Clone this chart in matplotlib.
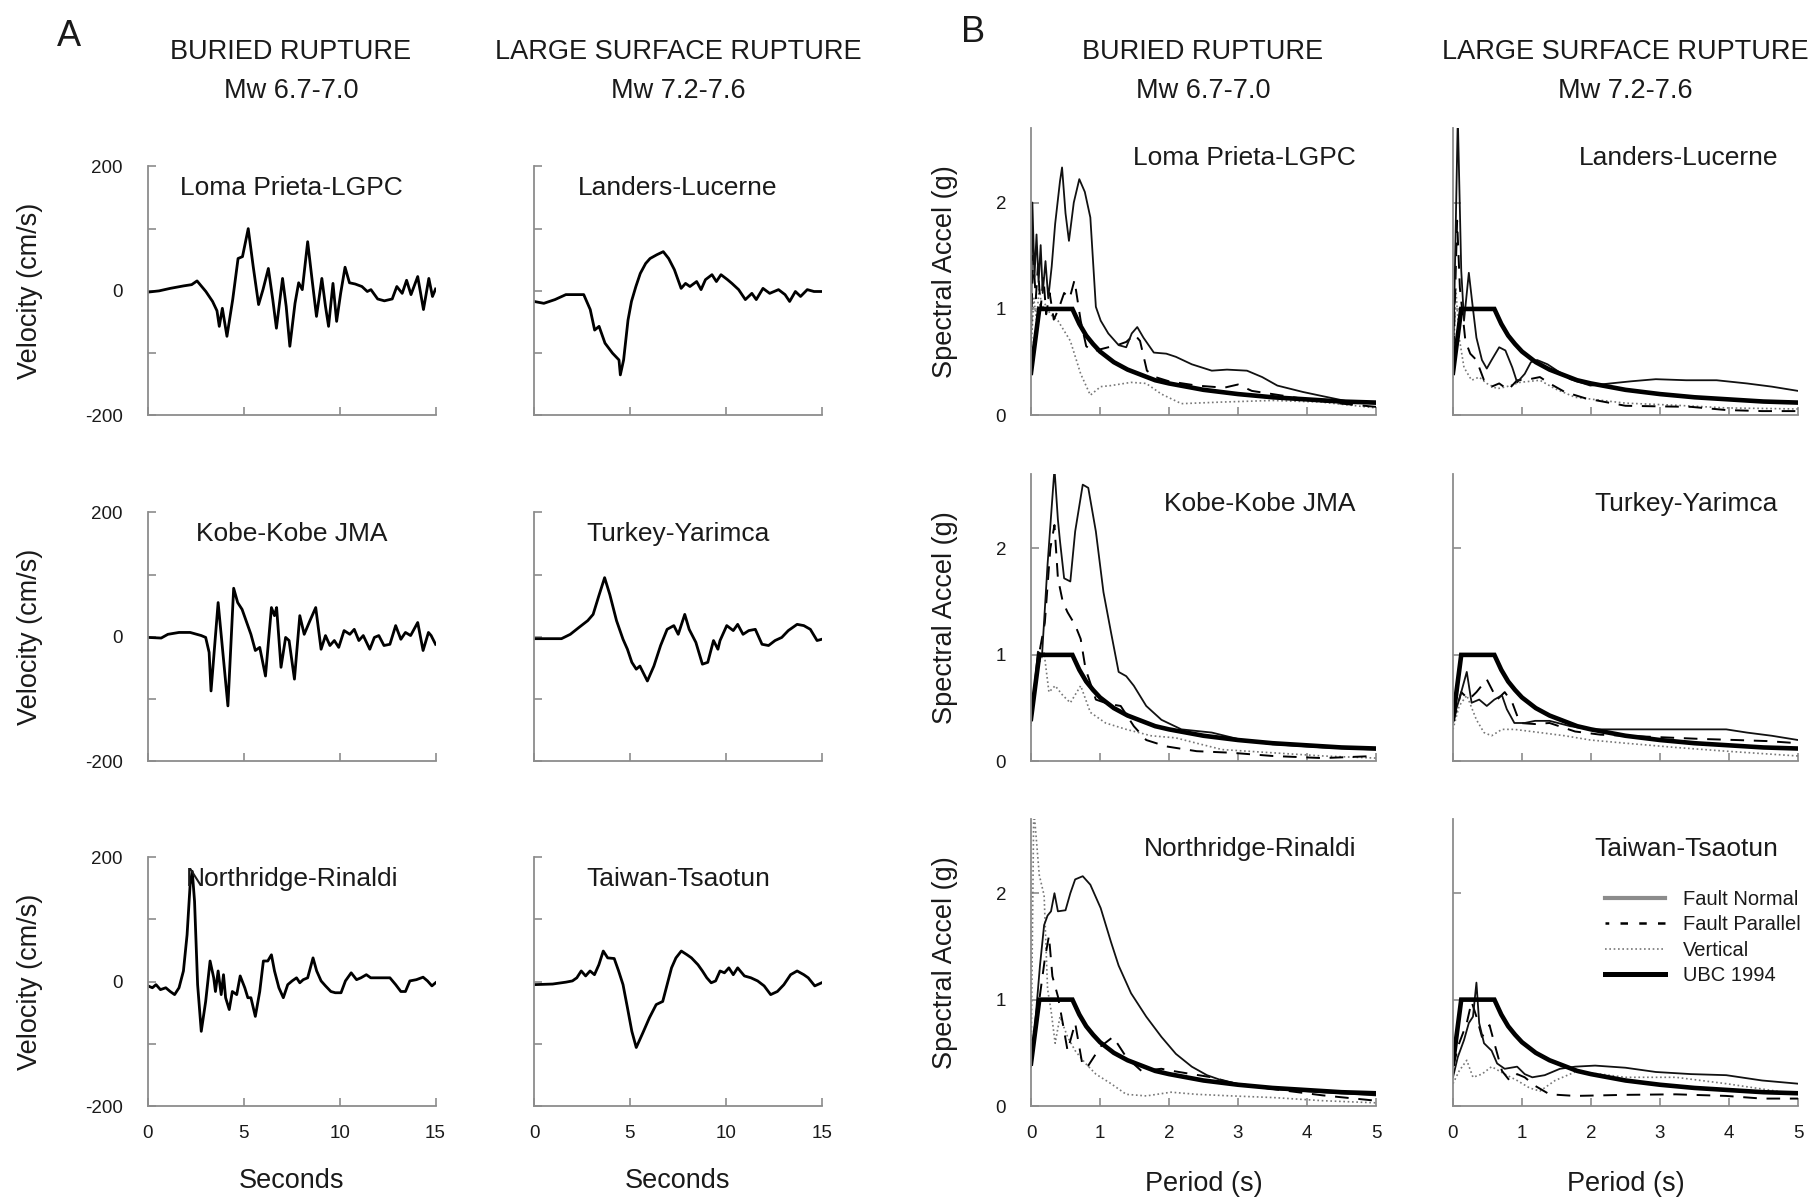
import matplotlib
matplotlib.use('Agg')
import matplotlib.pyplot as plt
from matplotlib.lines import Line2D

plt.rcParams['font.family'] = ['Liberation Sans', 'DejaVu Sans']

# ------------------------------------------------------------
# velocity time histories (t in s, v in cm/s)
# ------------------------------------------------------------
loma_t = [0, 0.58, 1.16, 1.86, 2.28, 2.56, 3.02, 3.37, 3.60, 3.72, 3.88, 4.12, 4.42, 4.70, 4.93, 5.23,
          5.49, 5.77, 6.00, 6.28, 6.51, 6.70, 7.02, 7.21, 7.40, 7.67, 7.86, 8.05, 8.33, 8.56, 8.79, 9.07,
          9.26, 9.42, 9.65, 9.84, 10.05, 10.28, 10.51, 10.81, 11.16, 11.44, 11.63, 11.98, 12.33, 12.74,
          12.98, 13.26, 13.49, 13.72, 14.07, 14.37, 14.65, 14.84, 15.0]
loma_v = [-2, 0, 4, 8, 10, 16, -1, -17, -32, -57, -28, -73, -14, 52, 55, 100, 39, -22, 2, 36, -14, -60,
          20, -25, -89, -20, 13, 2, 79, 18, -41, 20, -25, -57, 12, -49, -4, 38, 13, 11, 7, -1, 2, -13,
          -16, -13, 7, -4, 17, -6, 23, -30, 20, -9, 3]

land_t = [0, 0.51, 1.09, 1.66, 2.59, 2.93, 3.16, 3.39, 3.70, 4.09, 4.43, 4.50, 4.67, 4.90, 5.08, 5.31,
          5.54, 5.82, 6.05, 6.40, 6.74, 7.02, 7.32, 7.67, 7.90, 8.13, 8.48, 8.71, 8.94, 9.28, 9.51, 9.75,
          10.09, 10.32, 10.67, 11.02, 11.36, 11.59, 11.94, 12.29, 12.75, 13.09, 13.33, 13.63, 13.90,
          14.25, 14.60, 15.0]
land_v = [-17, -20, -14, -6, -6, -30, -63, -57, -84, -100, -111, -135, -111, -47, -17, 7, 28, 44, 52,
          58, 63, 52, 34, 4, 12, 7, 15, 2, 18, 26, 15, 26, 18, 12, 2, -14, -4, -14, 4, -4, 2, -6, -17,
          -1, -9, 2, -1, -1]

kobe_t = [0, 0.69, 1.04, 1.62, 2.20, 2.78, 3.01, 3.19, 3.29, 3.66, 4.17, 4.47, 4.68, 4.91, 5.37, 5.60,
          5.83, 6.13, 6.44, 6.60, 6.71, 6.94, 7.18, 7.36, 7.64, 7.92, 8.15, 8.45, 8.75, 9.03, 9.26, 9.49,
          9.72, 9.95, 10.23, 10.53, 10.76, 11.00, 11.23, 11.57, 11.81, 12.04, 12.31, 12.62, 12.92, 13.19,
          13.43, 13.70, 14.07, 14.35, 14.63, 14.77, 15.0]
kobe_v = [-1, -2, 4, 7, 7, 2, -1, -25, -87, 55, -111, 78, 55, 44, 4, -22, -17, -63, 47, 34, 47, -49, -1,
          -6, -68, 34, 4, 26, 47, -20, 2, -14, -6, -17, 10, 4, 12, -6, 2, -20, -1, 2, -14, -12, 18, -4,
          7, 2, 23, -22, 7, 2, -12]

turk_t = [0, 1.43, 1.89, 2.34, 2.80, 3.08, 3.38, 3.68, 3.95, 4.30, 4.64, 4.87, 5.10, 5.33, 5.52, 5.91,
          6.25, 6.60, 6.94, 7.29, 7.52, 7.86, 8.09, 8.44, 8.78, 9.06, 9.36, 9.59, 9.70, 10.05, 10.39,
          10.62, 10.90, 11.20, 11.54, 11.89, 12.23, 12.57, 12.92, 13.26, 13.72, 14.07, 14.41, 14.76, 15.0]
turk_v = [-3, -3, 4, 15, 26, 36, 66, 95, 68, 26, -4, -20, -41, -52, -47, -71, -47, -14, 12, 18, 4, 36,
          12, -9, -44, -41, -6, -20, -6, 18, 10, 20, 4, 10, 12, -12, -14, -6, -1, 10, 20, 18, 12, -6, -4]

nr_t = [0, 0.23, 0.42, 0.65, 0.93, 1.16, 1.39, 1.62, 1.85, 2.04, 2.20, 2.31, 2.43, 2.59, 2.78, 3.01,
        3.24, 3.43, 3.52, 3.66, 3.82, 3.94, 4.05, 4.24, 4.40, 4.63, 4.81, 5.05, 5.21, 5.37, 5.60, 5.83,
        6.02, 6.25, 6.44, 6.60, 6.83, 7.06, 7.29, 7.52, 7.75, 7.92, 8.10, 8.33, 8.61, 8.80, 9.03, 9.26,
        9.54, 9.77, 10.07, 10.30, 10.60, 10.88, 11.11, 11.39, 11.62, 11.92, 12.27, 12.62, 12.92, 13.19,
        13.43, 13.66, 14.00, 14.35, 14.58, 14.81, 15.0]
nr_v = [-7, -10, -5, -13, -10, -16, -21, -10, 17, 75, 156, 177, 129, -5, -80, -32, 33, 6, -16, 17, -21,
        11, -26, -45, -16, -21, 9, -10, -26, -26, -56, -16, 33, 33, 43, 17, -10, -26, -5, 1, 6, -2, 3, 6,
        38, 17, 1, -7, -16, -18, -18, 1, 14, 3, 6, 11, 6, 6, 6, 6, -5, -16, -16, 1, 3, 7, 1, -7, -2]

tw_t = [0, 0.97, 1.66, 2.00, 2.23, 2.46, 2.69, 2.92, 3.15, 3.38, 3.61, 3.84, 4.18, 4.41, 4.64, 4.87,
        5.10, 5.33, 5.68, 6.02, 6.37, 6.71, 6.94, 7.17, 7.40, 7.68, 7.98, 8.21, 8.55, 8.78, 9.01, 9.24,
        9.47, 9.70, 9.93, 10.16, 10.39, 10.62, 10.97, 11.31, 11.66, 12.00, 12.34, 12.69, 13.03, 13.38,
        13.72, 14.07, 14.30, 14.64, 15.0]
tw_v = [-5, -4, -1, 1, 6, 17, 9, 17, 11, 27, 49, 38, 37, 17, -5, -42, -80, -106, -82, -58, -37, -32, -5,
        22, 38, 49, 43, 38, 27, 17, 6, -2, 1, 17, 14, 22, 11, 22, 9, 6, 1, -7, -21, -16, -5, 11, 17, 11,
        6, -7, -2]

# ------------------------------------------------------------
# response spectra (period s, Sa g): fault normal / parallel / vertical
# ------------------------------------------------------------
loma_fn_T = [0, 0.02, 0.05, 0.08, 0.11, 0.14, 0.17, 0.21, 0.25, 0.30, 0.35, 0.42, 0.45, 0.50, 0.55, 0.62,
             0.70, 0.78, 0.86, 0.94, 1.01, 1.12, 1.27, 1.38, 1.46, 1.54, 1.63, 1.78, 1.96, 2.10, 2.33,
             2.62, 2.84, 3.13, 3.35, 3.57, 3.94, 4.23, 4.60, 5.0]
loma_fn_sa = [0.65, 2.0, 1.3, 1.7, 1.25, 1.6, 1.15, 1.45, 1.1, 1.4, 1.8, 2.2, 2.33, 1.9, 1.64, 2.0, 2.22,
              2.1, 1.86, 1.02, 0.89, 0.77, 0.66, 0.64, 0.77, 0.83, 0.73, 0.59, 0.58, 0.55, 0.48, 0.42,
              0.43, 0.42, 0.36, 0.28, 0.22, 0.18, 0.13, 0.11]
loma_fp_T = [0, 0.03, 0.07, 0.10, 0.14, 0.18, 0.22, 0.27, 0.33, 0.40, 0.48, 0.56, 0.63, 0.72, 0.80, 0.90,
             1.00, 1.12, 1.25, 1.38, 1.50, 1.58, 1.68, 1.80, 2.0, 2.4, 2.8, 3.0, 3.2, 3.5, 4.0, 4.5, 5.0]
loma_fp_sa = [0.8, 1.5, 1.1, 1.4, 1.0, 1.3, 0.95, 1.15, 0.9, 1.0, 1.15, 1.1, 1.27, 0.89, 0.65, 0.6, 0.62,
              0.64, 0.66, 0.69, 0.76, 0.7, 0.42, 0.36, 0.32, 0.28, 0.26, 0.29, 0.23, 0.2, 0.15, 0.11, 0.08]
loma_v_T = [0, 0.04, 0.08, 0.12, 0.16, 0.20, 0.28, 0.39, 0.57, 0.72, 0.86, 1.01, 1.16, 1.45, 1.67, 1.89,
            2.18, 2.77, 3.50, 4.20, 5.0]
loma_v_sa = [0.6, 1.1, 0.9, 1.2, 1.0, 1.05, 0.95, 0.89, 0.70, 0.39, 0.19, 0.27, 0.28, 0.31, 0.30, 0.20,
             0.11, 0.125, 0.14, 0.125, 0.07]

land_fn_T = [0, 0.07, 0.12, 0.16, 0.23, 0.29, 0.34, 0.42, 0.49, 0.56, 0.67, 0.76, 0.86, 0.93, 1.04, 1.13,
             1.22, 1.37, 1.51, 1.70, 1.99, 2.28, 2.58, 2.94, 3.38, 3.82, 4.26, 4.62, 5.0]
land_fn_sa = [0.4, 2.8, 1.36, 0.89, 1.34, 1.0, 0.73, 0.52, 0.44, 0.52, 0.64, 0.61, 0.45, 0.31, 0.39, 0.5,
              0.52, 0.48, 0.42, 0.34, 0.28, 0.3, 0.32, 0.34, 0.33, 0.33, 0.3, 0.27, 0.23]
land_fp_T = [0, 0.06, 0.10, 0.18, 0.25, 0.34, 0.45, 0.56, 0.67, 0.80, 0.93, 1.11, 1.26, 1.40, 1.62, 1.92,
             2.50, 2.94, 3.45, 3.96, 4.48, 5.0]
land_fp_sa = [0.4, 1.83, 1.2, 0.7, 0.58, 0.52, 0.33, 0.27, 0.3, 0.24, 0.33, 0.34, 0.36, 0.3, 0.22, 0.16,
              0.09, 0.085, 0.08, 0.05, 0.04, 0.04]
land_v_T = [0, 0.04, 0.09, 0.16, 0.27, 0.38, 0.49, 0.64, 0.78, 0.97, 1.26, 1.48, 1.77, 2.50, 3.23, 3.96, 5.0]
land_v_sa = [0.35, 1.2, 0.73, 0.45, 0.33, 0.36, 0.3, 0.25, 0.27, 0.31, 0.33, 0.25, 0.17, 0.115, 0.095,
             0.07, 0.06]

kobe_fn_T = [0, 0.10, 0.16, 0.24, 0.34, 0.39, 0.42, 0.48, 0.57, 0.64, 0.75, 0.83, 0.94, 1.05, 1.16, 1.27,
             1.38, 1.49, 1.67, 1.89, 2.18, 2.62, 3.06, 3.50, 4.23, 5.0]
kobe_fn_sa = [0.36, 1.03, 1.0, 1.85, 2.75, 2.27, 2.07, 1.72, 1.69, 2.16, 2.6, 2.57, 2.16, 1.59, 1.21, 0.84,
              0.8, 0.71, 0.52, 0.39, 0.3, 0.27, 0.2, 0.16, 0.13, 0.11]
kobe_fp_T = [0, 0.10, 0.20, 0.28, 0.34, 0.39, 0.46, 0.53, 0.64, 0.72, 0.79, 0.94, 1.12, 1.30, 1.49, 1.67,
             1.96, 2.40, 2.91, 3.50, 4.23, 5.0]
kobe_fp_sa = [0.4, 0.95, 1.3, 2.0, 2.22, 1.72, 1.5, 1.4, 1.28, 1.15, 0.87, 0.58, 0.54, 0.52, 0.33, 0.2,
              0.14, 0.095, 0.08, 0.05, 0.03, 0.05]
kobe_v_T = [0, 0.10, 0.19, 0.26, 0.35, 0.46, 0.57, 0.72, 0.86, 1.08, 1.38, 1.74, 2.10, 2.40, 2.77, 3.50,
            4.23, 5.0]
kobe_v_sa = [0.33, 0.9, 1.02, 0.65, 0.71, 0.62, 0.55, 0.71, 0.46, 0.36, 0.3, 0.24, 0.22, 0.17, 0.11, 0.08,
             0.05, 0.03]

turk_fn_T = [0, 0.09, 0.20, 0.27, 0.38, 0.49, 0.60, 0.71, 0.78, 0.89, 1.04, 1.19, 1.40, 1.70, 1.99, 2.50,
             3.23, 3.96, 4.26, 4.62, 5.0]
turk_fn_sa = [0.39, 0.58, 0.84, 0.55, 0.58, 0.52, 0.58, 0.62, 0.49, 0.36, 0.36, 0.38, 0.38, 0.33, 0.3, 0.3,
              0.3, 0.3, 0.27, 0.24, 0.2]
turk_fp_T = [0, 0.12, 0.23, 0.34, 0.49, 0.64, 0.75, 0.86, 0.97, 1.19, 1.40, 1.77, 2.14, 2.87, 3.60, 4.10,
             4.55, 5.0]
turk_fp_sa = [0.36, 0.65, 0.58, 0.65, 0.77, 0.58, 0.65, 0.55, 0.36, 0.35, 0.36, 0.28, 0.25, 0.23, 0.21,
              0.2, 0.19, 0.17]
turk_v_T = [0, 0.09, 0.20, 0.34, 0.45, 0.56, 0.71, 0.89, 1.26, 1.62, 1.99, 2.50, 3.23, 3.96, 5.0]
turk_v_sa = [0.3, 0.52, 0.62, 0.39, 0.27, 0.24, 0.3, 0.3, 0.27, 0.24, 0.2, 0.17, 0.13, 0.095, 0.05]

nr_fn_T = [0, 0.06, 0.13, 0.19, 0.24, 0.29, 0.34, 0.39, 0.50, 0.57, 0.64, 0.75, 0.86, 1.01, 1.16, 1.27,
           1.45, 1.67, 1.89, 2.10, 2.33, 2.55, 2.77, 3.13, 3.50, 4.23, 5.0]
nr_fn_sa = [0.37, 0.78, 1.32, 1.7, 1.79, 1.83, 2.0, 1.83, 1.84, 2.0, 2.13, 2.16, 2.08, 1.86, 1.54, 1.32,
            1.06, 0.84, 0.65, 0.49, 0.37, 0.29, 0.24, 0.19, 0.16, 0.13, 0.1]
nr_fp_T = [0, 0.10, 0.20, 0.26, 0.31, 0.39, 0.46, 0.53, 0.64, 0.75, 0.83, 1.01, 1.19, 1.38, 1.60, 1.89,
           2.05, 2.33, 2.62, 2.91, 3.50, 4.23, 5.0]
nr_fp_sa = [0.37, 0.9, 1.38, 1.6, 1.22, 1.03, 0.78, 0.52, 0.78, 0.37, 0.38, 0.56, 0.65, 0.46, 0.33, 0.35,
            0.33, 0.3, 0.27, 0.22, 0.16, 0.1, 0.05]
nr_v_T = [0, 0.04, 0.12, 0.19, 0.24, 0.29, 0.35, 0.42, 0.53, 0.64, 0.79, 0.94, 1.16, 1.38, 1.67, 2.03,
          2.40, 2.91, 3.50, 4.23, 5.0]
nr_v_sa = [0.37, 2.8, 2.17, 1.98, 1.1, 0.9, 0.59, 0.84, 0.65, 0.52, 0.4, 0.3, 0.21, 0.11, 0.095, 0.13,
           0.11, 0.095, 0.08, 0.05, 0.03]

tw_fn_T = [0, 0.07, 0.16, 0.23, 0.29, 0.34, 0.38, 0.45, 0.56, 0.64, 0.75, 0.93, 1.04, 1.15, 1.33, 1.55,
           1.77, 2.06, 2.50, 2.94, 3.45, 3.96, 4.48, 5.0]
tw_fn_sa = [0.27, 0.46, 0.62, 0.78, 0.84, 1.16, 0.78, 0.59, 0.52, 0.4, 0.35, 0.37, 0.3, 0.27, 0.29, 0.35,
            0.37, 0.38, 0.36, 0.32, 0.3, 0.29, 0.24, 0.21]
tw_fp_T = [0, 0.09, 0.20, 0.27, 0.34, 0.42, 0.53, 0.60, 0.71, 0.82, 0.93, 1.04, 1.19, 1.40, 1.77, 2.50,
           3.23, 3.96, 4.48, 5.0]
tw_fp_sa = [0.37, 0.59, 0.78, 0.98, 0.84, 0.65, 0.76, 0.59, 0.33, 0.24, 0.3, 0.27, 0.19, 0.11, 0.095,
            0.105, 0.11, 0.095, 0.07, 0.07]
tw_v_T = [0, 0.09, 0.20, 0.29, 0.42, 0.56, 0.75, 0.93, 1.11, 1.26, 1.48, 1.77, 2.14, 2.50, 3.23, 3.96,
          4.48, 5.0]
tw_v_sa = [0.21, 0.33, 0.43, 0.27, 0.3, 0.37, 0.3, 0.24, 0.17, 0.14, 0.24, 0.32, 0.3, 0.27, 0.27, 0.21,
           0.16, 0.11]

# UBC 1994 design spectrum as drawn
ubc_T = [0, 0.12, 0.6, 0.7, 0.8, 0.9, 1.0, 1.2, 1.4, 1.6, 1.8, 2.0, 2.5, 3.0, 3.5, 4.0, 4.5, 5.0]
ubc_sa = [0.4, 1.0, 1.0, 0.86, 0.75, 0.67, 0.6, 0.5, 0.43, 0.38, 0.33, 0.3, 0.24, 0.2, 0.17, 0.15, 0.13, 0.12]

names_buried = ["Loma Prieta-LGPC", "Kobe-Kobe JMA", "Northridge-Rinaldi"]
names_surface = ["Landers-Lucerne", "Turkey-Yarimca", "Taiwan-Tsaotun"]

vel_buried = [(loma_t, loma_v), (kobe_t, kobe_v), (nr_t, nr_v)]
vel_surface = [(land_t, land_v), (turk_t, turk_v), (tw_t, tw_v)]

spec_buried = [
    (loma_fn_T, loma_fn_sa, loma_fp_T, loma_fp_sa, loma_v_T, loma_v_sa),
    (kobe_fn_T, kobe_fn_sa, kobe_fp_T, kobe_fp_sa, kobe_v_T, kobe_v_sa),
    (nr_fn_T, nr_fn_sa, nr_fp_T, nr_fp_sa, nr_v_T, nr_v_sa),
]
spec_surface = [
    (land_fn_T, land_fn_sa, land_fp_T, land_fp_sa, land_v_T, land_v_sa),
    (turk_fn_T, turk_fn_sa, turk_fp_T, turk_fp_sa, turk_v_T, turk_v_sa),
    (tw_fn_T, tw_fn_sa, tw_fp_T, tw_fp_sa, tw_v_T, tw_v_sa),
]

GREY = '#8c8c8c'
TXT = '#1a1a1a'

fig = plt.figure(figsize=(18.11, 11.97), dpi=100)

row_bottoms = [0.653, 0.364, 0.076]
a_lefts = [0.0817, 0.2949]
a_w, a_h = 0.1588, 0.208
b_lefts = [0.5693, 0.8023]
b_w, b_h = 0.1905, 0.240


def style(ax):
    for s in ('top', 'right'):
        ax.spines[s].set_visible(False)
    for s in ('left', 'bottom'):
        ax.spines[s].set_color(GREY)
        ax.spines[s].set_linewidth(1.3)
    ax.tick_params(direction='in', length=6, width=1.2, color=GREY,
                   labelsize=13.5, labelcolor=TXT)
    ax.tick_params(axis='y', pad=18)
    ax.tick_params(axis='x', pad=14)


# ---------------- panel A: velocity ----------------
for col, (recs, names) in enumerate([(vel_buried, names_buried), (vel_surface, names_surface)]):
    for row in range(3):
        ax = fig.add_axes([a_lefts[col], row_bottoms[row], a_w, a_h])
        t, v = recs[row]
        ax.plot(t, v, color='black', lw=2.0, solid_joinstyle='round')
        ax.set_xlim(0, 15)
        ax.set_ylim(-200, 200)
        ax.set_xticks([0, 5, 10, 15])
        ax.set_yticks([-200, -100, 0, 100, 200])
        style(ax)
        if col == 0:
            ax.set_yticklabels(['-200', '', '0', '', '200'])
            ax.set_ylabel('Velocity (cm/s)', fontsize=19.5, color=TXT)
            ax.yaxis.set_label_coords(-0.366, 0.5)
        else:
            ax.set_yticklabels([])
        if row == 2:
            ax.set_xlabel('Seconds', fontsize=19.5, color=TXT)
            ax.xaxis.set_label_coords(0.5, -0.25)
        else:
            ax.set_xticklabels([])
        ax.text(0.5, 0.912, names[row], transform=ax.transAxes, ha='center', va='center',
                fontsize=19, color=TXT)

# ---------------- panel B: spectra ----------------
for col, (recs, names) in enumerate([(spec_buried, names_buried), (spec_surface, names_surface)]):
    for row in range(3):
        ax = fig.add_axes([b_lefts[col], row_bottoms[row], b_w, b_h])
        fnT, fnS, fpT, fpS, vT, vS = recs[row]
        ax.plot(vT, vS, color='#777777', lw=1.2, linestyle=(0, (1, 1.6)))
        ax.plot(fpT, fpS, color='black', lw=1.4, linestyle=(0, (7, 5)))
        ax.plot(fnT, fnS, color='#111111', lw=1.3)
        ax.plot(ubc_T, ubc_sa, color='black', lw=3.3, solid_joinstyle='miter')
        ax.set_xlim(0, 5)
        ax.set_ylim(0, 2.7)
        ax.set_xticks([0, 1, 2, 3, 4, 5])
        ax.set_yticks([0, 1, 2])
        style(ax)
        if col == 0:
            ax.set_ylabel('Spectral Accel (g)', fontsize=19.5, color=TXT)
            ax.yaxis.set_label_coords(-0.212, 0.5)
        else:
            ax.set_yticklabels([])
        if row == 2:
            ax.set_xlabel('Period (s)', fontsize=19.5, color=TXT)
            ax.xaxis.set_label_coords(0.5, -0.226)
        else:
            ax.set_xticklabels([])
        ax.text(0.942, 0.895, names[row], transform=ax.transAxes, ha='right', va='center',
                fontsize=19, color=TXT)
        if col == 1 and row == 2:
            handles = [
                Line2D([], [], color=GREY, lw=3.0),
                Line2D([], [], color='black', lw=1.8, linestyle=(1.5, (3, 4.5))),
                Line2D([], [], color='#777777', lw=1.2, linestyle=(0, (1, 1.6))),
                Line2D([], [], color='black', lw=3.6),
            ]
            ax.legend(handles, ['Fault Normal', 'Fault Parallel', 'Vertical', 'UBC 1994'],
                      loc='upper left', bbox_to_anchor=(0.44, 0.752), frameon=False,
                      fontsize=14.5, handlelength=3.0, handletextpad=0.9, labelspacing=0.32,
                      borderpad=0, borderaxespad=0, labelcolor=TXT)

# ---------------- headers ----------------
W, H = 1811.0, 1197.0
fig.text(69 / W, 1 - 36 / H, 'A', fontsize=26, ha='center', va='center', color=TXT)
fig.text(973 / W, 1 - 33 / H, 'B', fontsize=26, ha='center', va='center', color=TXT)
header_x = [291, 678, 1203, 1625]
for i, x in enumerate(header_x):
    if i % 2 == 0:
        top, sub = 'BURIED RUPTURE', 'Mw 6.7-7.0'
    else:
        top, sub = 'LARGE SURFACE RUPTURE', 'Mw 7.2-7.6'
    fig.text(x / W, 1 - 52 / H, top, fontsize=19.5, ha='center', va='center', color=TXT)
    fig.text(x / W, 1 - 91 / H, sub, fontsize=19.5, ha='center', va='center', color=TXT)

fig.savefig('out.png', dpi=100)
